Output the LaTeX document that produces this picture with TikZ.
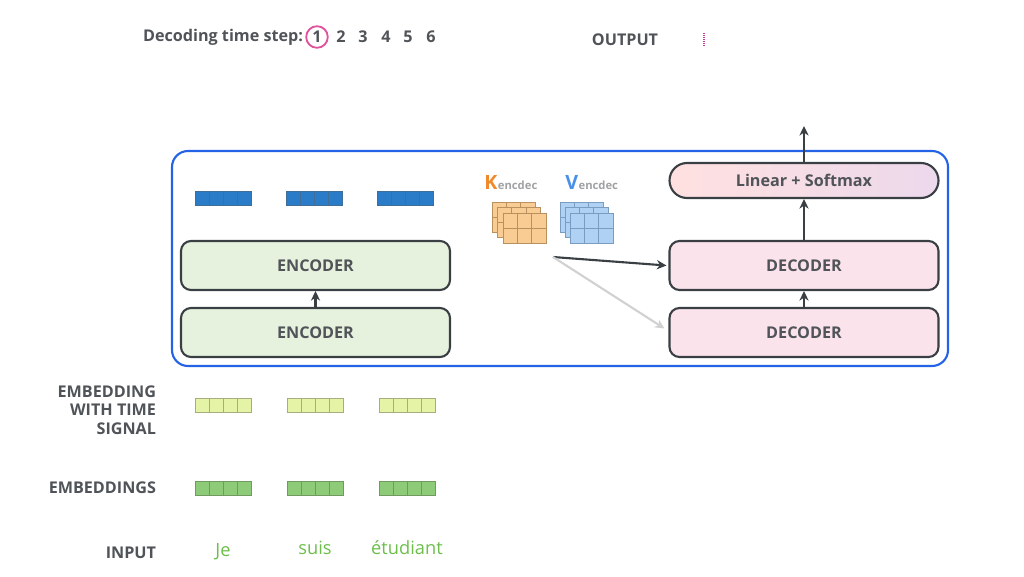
\documentclass[tikz,border=0pt]{standalone}
\usepackage{fontspec}
\setmainfont{Open Sans}
\usetikzlibrary{arrows.meta}

\definecolor{boxblue}{HTML}{2463E6}
\definecolor{txtgray}{HTML}{505458}
\definecolor{linegray}{HTML}{3A3F44}
\definecolor{encfill}{HTML}{E6F2DE}
\definecolor{decfill}{HTML}{FBE3EC}
\definecolor{vecblue}{HTML}{2A7CC8}
\definecolor{vecblueline}{HTML}{3F6E98}
\definecolor{timefill}{HTML}{E4F3A6}
\definecolor{timeline}{HTML}{A6AE80}
\definecolor{embfill}{HTML}{8DCB78}
\definecolor{embline}{HTML}{6F9A60}
\definecolor{wordgreen}{HTML}{6DBE4B}
\definecolor{korange}{HTML}{F0892A}
\definecolor{kfill}{HTML}{F8CC92}
\definecolor{kline}{HTML}{B8915E}
\definecolor{vblue}{HTML}{4A90E8}
\definecolor{vfill}{HTML}{AFD2F4}
\definecolor{vline}{HTML}{7A9CC0}
\definecolor{stepmark}{HTML}{E0529C}

% one word vector: x, y, fill, line
\newcommand{\wordvec}[4]{%
  \draw[fill=#3,draw=#4,line width=0.6pt] (#1,#2) rectangle ++(56,14);
  \foreach \i in {1,2,3} \draw[#4,line width=0.5pt] (#1+\i*14,#2) -- ++(0,14);
}
% one key/value matrix: x, y, fill, line
\newcommand{\kvgrid}[4]{%
  \draw[fill=#3,draw=#4,line width=0.6pt] (#1,#2) rectangle ++(43,30);
  \draw[#4,line width=0.6pt] (#1+14.3,#2) -- ++(0,30);
  \draw[#4,line width=0.6pt] (#1+28.6,#2) -- ++(0,30);
  \draw[#4,line width=0.6pt] (#1,#2+15) -- ++(43,0);
}

\tikzset{
  stack/.style={draw=linegray, line width=1.5pt, rounded corners=2.5mm,
    minimum width=67.25mm, minimum height=12.25mm, text=txtgray,
    font=\fontsize{11.5}{13}\selectfont\bfseries},
  lbl/.style={text=txtgray, font=\fontsize{11.5}{13}\selectfont\bfseries},
  word/.style={text=wordgreen, font=\fontsize{13}{15}\selectfont},
  flow/.style={-{Stealth[length=2.4mm,width=2.3mm]}, line width=1.5pt, draw=linegray},
}

\begin{document}
\begin{tikzpicture}[x=0.25mm,y=-0.25mm]
  \useasboundingbox (0,0) rectangle (1024,576);

  % top line
  \node[lbl, anchor=east] (steplbl) at (308,37) {Decoding time step:};
  \node[lbl] (t1) at (317,37) {1};
  \node[lbl] (t2) at (341,37) {2};
  \node[lbl] (t3) at (363,37) {3};
  \node[lbl] (t4) at (386,37) {4};
  \node[lbl] (t5) at (408,37) {5};
  \node[lbl] (t6) at (431,37) {6};
  \draw[stepmark, line width=1.3pt] (t1.center) circle (2.7mm);

  \node[lbl] (outlbl) at (625,40) {OUTPUT};
  \draw[stepmark!70!violet, line width=0.9pt, dash pattern=on 0.8pt off 0.6pt] (704,33) -- (704,46);

  % outer box
  \draw[boxblue, line width=1.5pt, rounded corners=4mm] (172,151) rectangle (948,366);

  % encoder side
  \wordvec{195}{191}{vecblue}{vecblueline}
  \wordvec{286}{191}{vecblue}{vecblueline}
  \wordvec{377}{191}{vecblue}{vecblueline}

  \node[stack, fill=encfill] (enc2) at (315.5,265.5) {ENCODER};
  \node[stack, fill=encfill] (enc1) at (315.5,332.5) {ENCODER};
  \draw[flow] (enc1) -- (enc2);

  % keys and values
  \node[anchor=base west, inner sep=0pt, text=korange, font=\fontsize{14}{16}\selectfont\bfseries] (klbl) at (484,189) {K};
  \node[anchor=base west, inner sep=0pt, text=txtgray!55, font=\fontsize{8}{9}\selectfont\bfseries] (ksub) at (klbl.base east) {encdec};
  \node[anchor=base west, inner sep=0pt, text=vblue, font=\fontsize{14}{16}\selectfont\bfseries] (vlbl) at (565,189) {V};
  \node[anchor=base west, inner sep=0pt, text=txtgray!55, font=\fontsize{8}{9}\selectfont\bfseries] (vsub) at (vlbl.base east) {encdec};

  \kvgrid{492}{202}{kfill}{kline}
  \kvgrid{497.5}{207.5}{kfill}{kline}
  \kvgrid{503}{213}{kfill}{kline}
  \kvgrid{560}{202}{vfill}{vline}
  \kvgrid{565}{207.5}{vfill}{vline}
  \kvgrid{570}{213}{vfill}{vline}

  % decoder side
  \node[stack, fill=decfill] (dec2) at (804,265.5) {DECODER};
  \node[stack, fill=decfill] (dec1) at (804,332.5) {DECODER};
  \node[stack, rounded corners=4.375mm, minimum height=8.75mm,
        left color=pink!80!red!30, right color=violet!15] (lin) at (804,180.5) {Linear + Softmax};
  \coordinate (kv) at (553,257);
  \coordinate (out) at (804,126);

  \draw[flow] (dec1) -- (dec2);
  \draw[flow] (dec2) -- (lin);
  \draw[flow] (lin) -- (out);
  \draw[flow] (kv) -- ([xshift=-0.5mm]dec2.west);
  \draw[flow, draw=black!18] (kv) -- ([xshift=-1mm,yshift=1mm]dec1.west);

  % embeddings
  \node[lbl, anchor=east, align=right] (timelbl) at (161,410) {EMBEDDING\\WITH TIME\\SIGNAL};
  \wordvec{195}{398}{timefill}{timeline}
  \wordvec{287}{398}{timefill}{timeline}
  \wordvec{379}{398}{timefill}{timeline}

  \node[lbl, anchor=east] (emblbl) at (161,488) {EMBEDDINGS};
  \wordvec{195}{481}{embfill}{embline}
  \wordvec{287}{481}{embfill}{embline}
  \wordvec{379}{481}{embfill}{embline}

  \node[lbl, anchor=east] (inlbl) at (161,553) {INPUT};
  \node[word] (w1) at (223,552) {Je};
  \node[word] (w2) at (315,548) {suis};
  \node[word] (w3) at (407,548) {étudiant};
\end{tikzpicture}
\end{document}
